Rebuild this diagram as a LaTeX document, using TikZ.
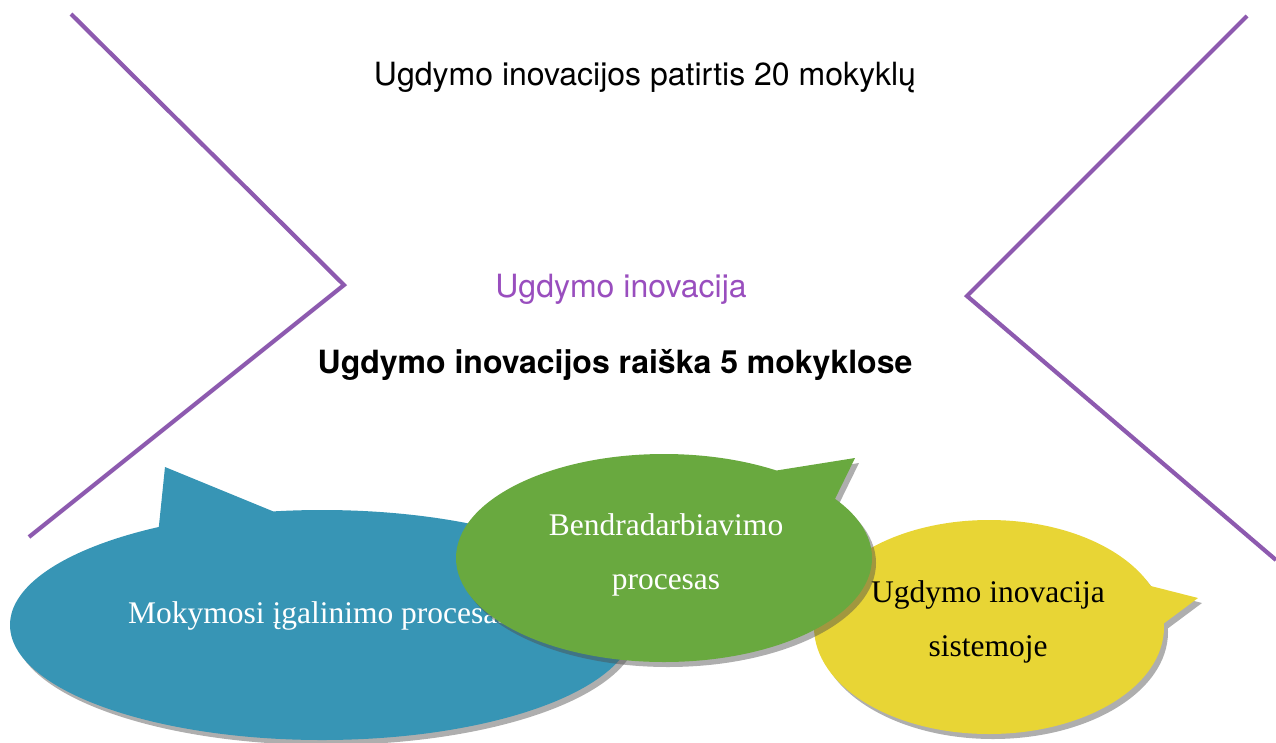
\documentclass[tikz,border=0pt]{standalone}
\usepackage{fontspec}
\setmainfont{Liberation Serif}
\setsansfont{TeX Gyre Heros}
\usetikzlibrary{shadows}
\definecolor{feltblue}{RGB}{55,149,181}
\definecolor{feltgreen}{RGB}{105,169,63}
\definecolor{feltyellow}{RGB}{232,213,53}
\definecolor{chevronpurple}{RGB}{141,90,175}
\definecolor{titlepurple}{RGB}{153,78,190}
\tikzset{chevron/.style = {line width = 4.2pt, color = chevronpurple}}
\tikzset{bubble/.style = {drop shadow = {shadow xshift = 4pt, shadow yshift = -5pt, fill = black!70, opacity = 0.45}}}
\tikzset{heading/.style = {font = \sffamily\fontsize{32}{38}\selectfont, inner sep = 0pt, anchor = base}}
\tikzset{bubbletext/.style = {font = \rmfamily\fontsize{31.5}{54}\selectfont, inner sep = 0pt, align = center}}

\begin{document}
\begin{tikzpicture}[x = 1pt, y = -1pt]
		\useasboundingbox (0,0) rectangle (1276,742);
		
		% Chevrons
		%% Left
		\draw[chevron] (71,14) coordinate(LT) -- (344,285) coordinate(LV) -- (29,537) coordinate(LB);
		%% Right
		\draw[chevron] (1247,16) coordinate(RT) -- (967,296) coordinate(RV) -- (1276,560) coordinate(RB);
		
		% Headings
		\node[heading] (patirtis) at (645,85) {Ugdymo inovacijos patirtis 20 mokyklų};
		\node[heading, color = titlepurple] (inovacija) at (621,297) {Ugdymo inovacija};
		\node[heading, font = \sffamily\bfseries\fontsize{32}{38}\selectfont] (raiska) at (615,373) {Ugdymo inovacijos raiška 5 mokyklose};
		
		% Bubbles
		%% Blue
		\path[bubble, fill = feltblue] (322,625) ellipse (312 and 115) (158,535) -- (165,467) -- (282,515) -- cycle;
		\node[bubbletext, anchor = base west, color = white] (mokymosi) at (128,623) {Mokymosi įgalinimo procesas};
		%% Yellow
		\path[bubble, fill = feltyellow] (989,627) ellipse (175 and 107) (1139,583) -- (1198,598) -- (1155,630) -- cycle;
		\node[bubbletext, color = black] (sistemoje) at (988,622) {Ugdymo inovacija\\sistemoje};
		%% Green
		\path[bubble, fill = feltgreen] (664,558) ellipse (208 and 104) (767,472) -- (855,458) -- (832,505) -- cycle;
		\node[bubbletext, color = white] (bendradarbiavimo) at (666,555) {Bendradarbiavimo\\procesas};
	\end{tikzpicture}
\end{document}
